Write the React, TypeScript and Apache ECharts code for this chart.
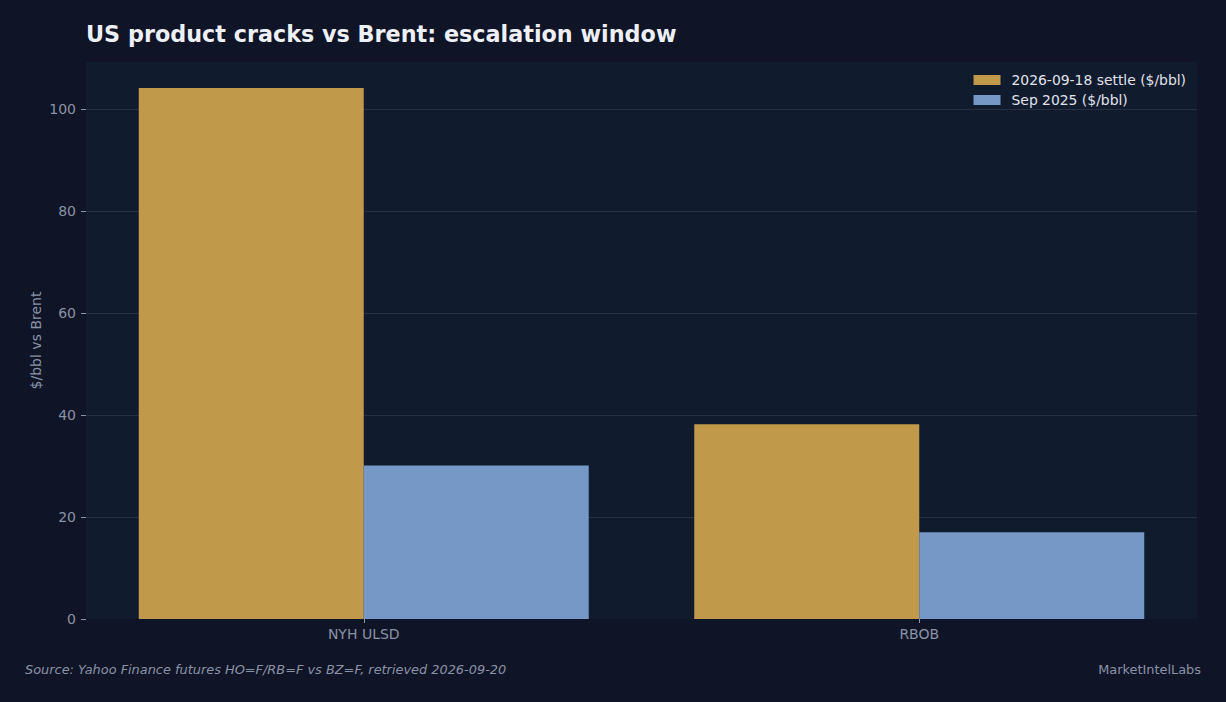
import { useEffect, useRef } from "react";
import * as echarts from "echarts";

const categories = ["NYH ULSD", "RBOB"];
const settle2026 = [104.1, 38.2];
const sep2025 = [30.1, 17.0];
const seriesNames = ["2026-09-18 settle ($/bbl)", "Sep 2025 ($/bbl)"];
const yTicks = { min: 0, max: 109.2, interval: 20 };

const FONT = "DejaVu Sans, Verdana, sans-serif";

export default function App() {
  const chartRef = useRef<HTMLDivElement>(null);

  useEffect(() => {
    document.body.style.margin = "0";
    if (!chartRef.current) return;
    const chart = echarts.init(chartRef.current, undefined, { renderer: "svg" });

    chart.setOption({
      animation: false,
      backgroundColor: "#0f1426",
      textStyle: { fontFamily: FONT },
      title: {
        text: "US product cracks vs Brent: escalation window",
        left: 81,
        top: 18,
        textStyle: {
          color: "#eef0f8",
          fontSize: 22.3,
          fontWeight: "bold",
          fontFamily: FONT,
        },
      },
      legend: {
        data: seriesNames,
        orient: "vertical",
        right: 35,
        top: 68,
        itemWidth: 27,
        itemHeight: 10,
        itemGap: 6,
        icon: "rect",
        textStyle: {
          color: "#e0e3ec",
          fontSize: 13.9,
          fontFamily: FONT,
          padding: [0, 0, 0, 6],
        },
      },
      grid: {
        left: 86,
        right: 29,
        top: 62,
        bottom: 83,
        show: true,
        backgroundColor: "#111b2e",
        borderWidth: 0,
      },
      xAxis: {
        type: "category",
        data: categories,
        axisLine: { show: false },
        axisTick: {
          show: true,
          alignWithLabel: true,
          length: 4,
          lineStyle: { color: "#8a93a6" },
        },
        axisLabel: { color: "#8a93a6", fontSize: 14, margin: 8, fontFamily: FONT },
        splitLine: { show: false },
      },
      yAxis: {
        type: "value",
        min: yTicks.min,
        max: yTicks.max,
        interval: yTicks.interval,
        name: "$/bbl vs Brent",
        nameLocation: "middle",
        nameGap: 43,
        nameMoveOverlap: false,
        nameTextStyle: { color: "#8a93a6", fontSize: 14, fontFamily: FONT },
        axisLine: { show: false },
        axisTick: { show: true, length: 5, lineStyle: { color: "#8a93a6" } },
        axisLabel: {
          color: "#8a93a6",
          fontSize: 14,
          margin: 10,
          fontFamily: FONT,
          showMaxLabel: false,
        },
        splitLine: {
          show: true,
          showMinLine: false,
          showMaxLine: false,
          lineStyle: { color: "#272f42", width: 1 },
        },
      },
      series: [
        {
          name: seriesNames[0],
          type: "bar",
          data: settle2026,
          barWidth: 225,
          barGap: "0%",
          itemStyle: { color: "#c09a4a" },
        },
        {
          name: seriesNames[1],
          type: "bar",
          data: sep2025,
          barWidth: 225,
          barGap: "0%",
          itemStyle: { color: "#7598c7" },
        },
      ],
      graphic: [
        {
          type: "text",
          left: 25,
          top: 663,
          style: {
            text: "Source: Yahoo Finance futures HO=F/RB=F vs BZ=F, retrieved 2026-09-20",
            fill: "#8a93a6",
            font: `italic 12.9px ${FONT}`,
          },
        },
        {
          type: "text",
          right: 25,
          top: 663,
          style: {
            text: "MarketIntelLabs",
            fill: "#8a93a6",
            font: `12.9px ${FONT}`,
          },
        },
      ],
    });

    return () => {
      chart.dispose();
    };
  }, []);

  return <div ref={chartRef} style={{ width: "1226px", height: "702px" }} />;
}
